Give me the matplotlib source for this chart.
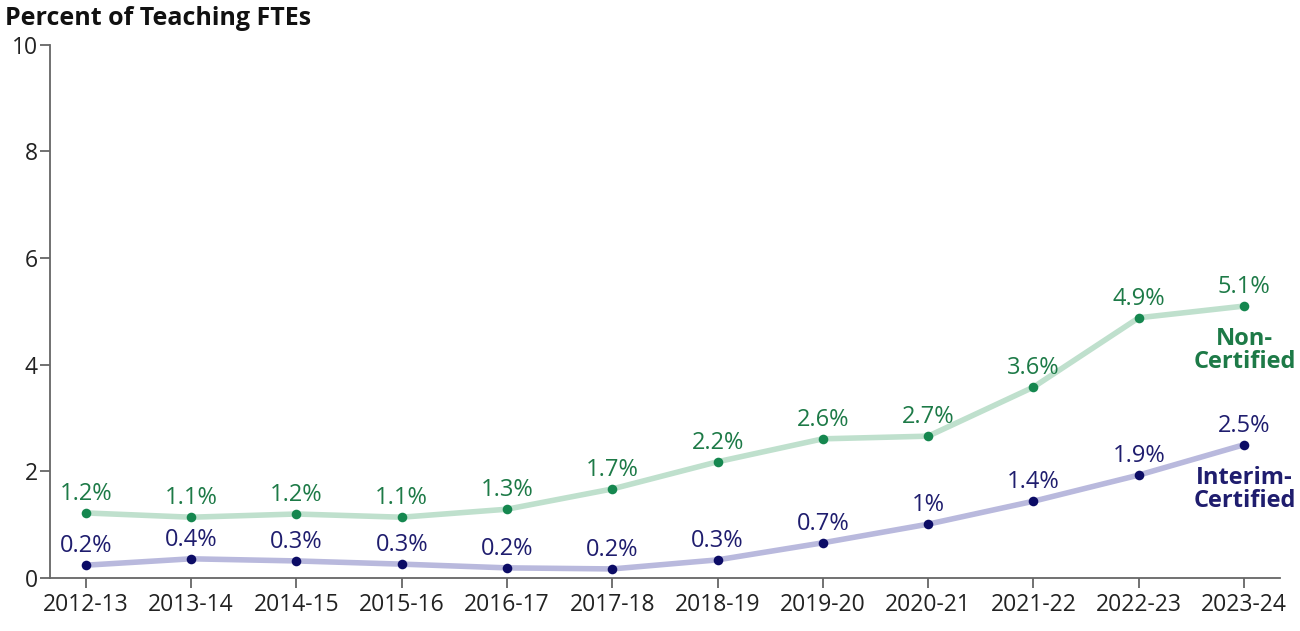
import matplotlib

matplotlib.use("Agg")
import matplotlib.pyplot as plt

plt.rcParams["font.family"] = ["Open Sans", "DejaVu Sans"]

YEARS = [
    "2012-13", "2013-14", "2014-15", "2015-16", "2016-17", "2017-18",
    "2018-19", "2019-20", "2020-21", "2021-22", "2022-23", "2023-24",
]
NON_CERTIFIED = [1.22, 1.14, 1.20, 1.14, 1.29, 1.67, 2.18, 2.61, 2.66, 3.58, 4.88, 5.10]
INTERIM_CERTIFIED = [0.24, 0.36, 0.32, 0.26, 0.19, 0.17, 0.34, 0.66, 1.01, 1.44, 1.93, 2.50]
Y_TICKS = [0, 2, 4, 6, 8, 10]

SERIES = [
    ("Non-\nCertified", NON_CERTIFIED, "#bfe0cd", "#15874f", "#1d7a47"),
    ("Interim-\nCertified", INTERIM_CERTIFIED, "#b9b9dd", "#0c0c66", "#1f1d6e"),
]


def pct_label(value):
    text = f"{value:.1f}".rstrip("0").rstrip(".")
    return text + "%"


fig = plt.figure(figsize=(13, 6.31), dpi=100)
ax = fig.add_axes([0.0385, 0.084, 0.946, 0.845])

x = list(range(len(YEARS)))
for name, values, line_color, dot_color, text_color in SERIES:
    ax.plot(x, values, color=line_color, linewidth=4, solid_capstyle="round",
            solid_joinstyle="round", zorder=2)
    ax.scatter(x, values, s=48, color=dot_color, zorder=3, linewidths=0)
    for xi, v in zip(x, values):
        ax.annotate(pct_label(v), (xi, v), xytext=(0, 5), textcoords="offset points",
                    ha="center", va="bottom", fontsize=17, color=text_color)
    ax.annotate(name, (x[-1], values[-1]), xytext=(0.5, -15), textcoords="offset points",
                ha="center", va="top", fontsize=17, fontweight="bold",
                color=text_color, linespacing=0.95, annotation_clip=False)

ax.set_xlim(-0.34, 11.34)
ax.set_ylim(0, 10)
ax.set_xticks(x)
ax.set_xticklabels(YEARS)
ax.set_yticks(Y_TICKS)

for side in ("top", "right"):
    ax.spines[side].set_visible(False)
for side in ("left", "bottom"):
    ax.spines[side].set_color("#666666")
    ax.spines[side].set_linewidth(1.3)
ax.tick_params(axis="both", colors="#666666", length=7, width=1.3, labelsize=16.5,
               labelcolor="#222222")
ax.tick_params(axis="x", pad=4)
ax.tick_params(axis="y", pad=2)

fig.text(0.004, 0.99, "Percent of Teaching FTEs", ha="left", va="top",
         fontsize=18, fontweight="bold", color="#111111")

fig.savefig("out.png", dpi=100)
